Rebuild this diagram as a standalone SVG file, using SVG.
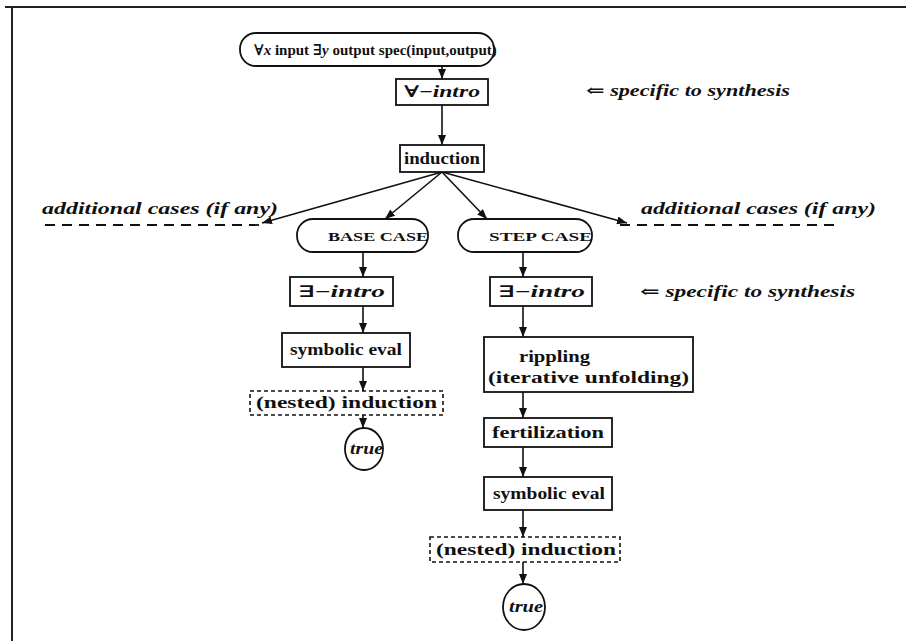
<svg xmlns="http://www.w3.org/2000/svg" width="906" height="641" viewBox="0 0 906 641">
<style>
.b{fill:#fff;stroke:#111;stroke-width:1.8}
.d{fill:#fff;stroke:#111;stroke-width:1.6;stroke-dasharray:4,3}
.t{font-family:"Liberation Serif","DejaVu Serif",serif;font-weight:bold;font-size:16px;fill:#111}
.i{font-style:italic}
.sc{font-size:13px}
.c{stroke:#111;stroke-width:1.6;fill:none;marker-end:url(#ah)}
.dl{stroke:#111;stroke-width:1.8;stroke-dasharray:10,7}
.fr{stroke:#222;stroke-width:2}
</style>
<defs>
<marker id="ah" viewBox="0 0 10 8" refX="10" refY="4" markerWidth="10" markerHeight="8" markerUnits="userSpaceOnUse" orient="auto">
<path d="M0,0 L10,4 L0,8 z" fill="#111"/>
</marker>
</defs>
<line class="fr" x1="5" y1="7" x2="906" y2="7"/>
<line class="fr" x1="12" y1="7" x2="12" y2="641"/>
<g id="connectors">
<line class="c" x1="442" y1="66" x2="442" y2="79"/>
<line class="c" x1="442" y1="105" x2="442" y2="145"/>
<line class="c" x1="442" y1="172" x2="262" y2="223"/>
<line class="c" x1="442" y1="172" x2="385" y2="219"/>
<line class="c" x1="442" y1="172" x2="487" y2="219"/>
<line class="c" x1="442" y1="172" x2="627" y2="223"/>
<line class="c" x1="363" y1="252" x2="363" y2="277"/>
<line class="c" x1="363" y1="306" x2="363" y2="333"/>
<line class="c" x1="363" y1="367" x2="363" y2="391"/>
<line class="c" x1="363" y1="415" x2="363" y2="428"/>
<line class="c" x1="523" y1="252" x2="523" y2="277"/>
<line class="c" x1="523" y1="306" x2="523" y2="337"/>
<line class="c" x1="523" y1="392" x2="523" y2="418"/>
<line class="c" x1="523" y1="447" x2="523" y2="477"/>
<line class="c" x1="523" y1="510" x2="523" y2="537"/>
<line class="c" x1="523" y1="562" x2="523" y2="584"/>
</g>
<g id="spec">
<rect class="b" x="240" y="33" width="254" height="33" rx="16"/>
<text class="t" x="254" y="55" style="font-size:15px">∀<tspan class="i">x</tspan> input ∃<tspan class="i">y</tspan> output spec(input,output)</text>
</g>
<g id="forall-intro">
<rect class="b" x="396" y="79" width="92" height="26"/>
<text class="t" x="404" y="97" textLength="76" lengthAdjust="spacingAndGlyphs">∀−<tspan class="i">intro</tspan></text>
</g>
<g id="note1">
<text class="t i" x="586" y="96" textLength="204" lengthAdjust="spacingAndGlyphs">⇐ specific to synthesis</text>
</g>
<g id="induction">
<rect class="b" x="400" y="145" width="84" height="27"/>
<text class="t" x="404" y="164" textLength="76" lengthAdjust="spacingAndGlyphs">induction</text>
</g>
<g id="add-left">
<text class="t i" x="42" y="214" textLength="236" lengthAdjust="spacingAndGlyphs">additional cases (if any)</text>
<line class="dl" x1="45" y1="225" x2="265" y2="225"/>
</g>
<g id="add-right">
<text class="t i" x="641" y="214" textLength="235" lengthAdjust="spacingAndGlyphs">additional cases (if any)</text>
<line class="dl" x1="620" y1="225" x2="835" y2="225"/>
</g>
<g id="base-case">
<rect class="b" x="297" y="219" width="131" height="33" rx="16"/>
<text class="t sc" x="328" y="241" textLength="100" lengthAdjust="spacingAndGlyphs">BASE CASE</text>
</g>
<g id="step-case">
<rect class="b" x="458" y="219" width="134" height="33" rx="16"/>
<text class="t sc" x="489" y="241" textLength="103" lengthAdjust="spacingAndGlyphs">STEP CASE</text>
</g>
<g id="exists-intro-base">
<rect class="b" x="290" y="277" width="103" height="29"/>
<text class="t" x="298" y="297" textLength="87" lengthAdjust="spacingAndGlyphs">∃−<tspan class="i">intro</tspan></text>
</g>
<g id="exists-intro-step">
<rect class="b" x="490" y="277" width="102" height="29"/>
<text class="t" x="498" y="297" textLength="87" lengthAdjust="spacingAndGlyphs">∃−<tspan class="i">intro</tspan></text>
</g>
<g id="note2">
<text class="t i" x="640" y="297" textLength="215" lengthAdjust="spacingAndGlyphs">⇐ specific to synthesis</text>
</g>
<g id="symeval-base">
<rect class="b" x="282" y="333" width="128" height="34"/>
<text class="t" x="290" y="355" textLength="112" lengthAdjust="spacingAndGlyphs">symbolic eval</text>
</g>
<g id="nested-base">
<rect class="d" x="250" y="391" width="193" height="24"/>
<text class="t" x="256" y="408" textLength="181" lengthAdjust="spacingAndGlyphs">(nested) induction</text>
</g>
<g id="true-base">
<ellipse class="b" cx="364" cy="449" rx="19" ry="21"/>
<text class="t i" x="350" y="454" textLength="33" lengthAdjust="spacingAndGlyphs">true</text>
</g>
<g id="rippling">
<rect class="b" x="484" y="337" width="209" height="55"/>
<text class="t" x="519" y="362" textLength="71" lengthAdjust="spacingAndGlyphs">rippling</text>
<text class="t" x="488" y="383" textLength="201" lengthAdjust="spacingAndGlyphs">(iterative unfolding)</text>
</g>
<g id="fertilization">
<rect class="b" x="484" y="418" width="128" height="29"/>
<text class="t" x="492" y="438" textLength="112" lengthAdjust="spacingAndGlyphs">fertilization</text>
</g>
<g id="symeval-step">
<rect class="b" x="484" y="477" width="128" height="33"/>
<text class="t" x="493" y="499" textLength="112" lengthAdjust="spacingAndGlyphs">symbolic eval</text>
</g>
<g id="nested-step">
<rect class="d" x="430" y="537" width="190" height="25"/>
<text class="t" x="436" y="555" textLength="180" lengthAdjust="spacingAndGlyphs">(nested) induction</text>
</g>
<g id="true-step">
<ellipse class="b" cx="524" cy="607" rx="21" ry="23"/>
<text class="t i" x="509" y="612" textLength="34" lengthAdjust="spacingAndGlyphs">true</text>
</g>
</svg>
